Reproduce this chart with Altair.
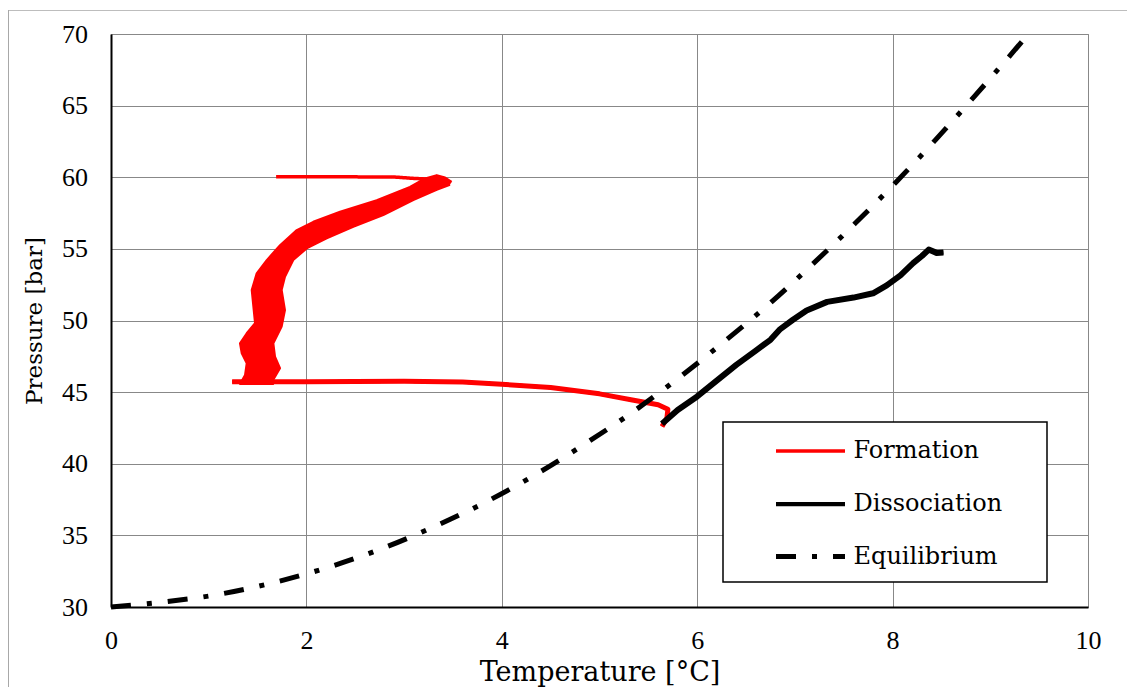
import altair as alt
import pandas as pd

# ---------------- data ----------------
series_names = ["Formation", "Dissociation", "Equilibrium"]
series_colors = ["#ff0000", "#000000", "#000000"]
series_dash = [[1, 0], [1, 0], [20, 16, 5, 16]]

x_ticks = [0, 2, 4, 6, 8, 10]
y_ticks = [30, 35, 40, 45, 50, 55, 60, 65, 70]

# Equilibrium curve
eq_T = [0.0, 0.433, 1.024, 1.604, 2.175, 2.740, 3.289, 3.825, 4.347, 4.852, 5.346,
        5.824, 6.288, 6.745, 7.182, 7.612, 8.032, 8.437, 8.833, 9.225, 9.39]
eq_P = [30.0, 30.28, 30.79, 31.60, 32.67, 33.99, 35.55, 37.29, 39.25, 41.39, 43.64,
        46.06, 48.59, 51.20, 53.94, 56.75, 59.64, 62.59, 65.61, 68.68, 70.0]

# Dissociation
dis_T = [5.64, 5.80, 6.00, 6.20, 6.40, 6.60, 6.75, 6.85, 6.98, 7.12, 7.33, 7.60,
         7.80, 7.94, 8.08, 8.21, 8.30, 8.37, 8.45, 8.52]
dis_P = [42.8, 43.75, 44.7, 45.8, 46.9, 47.9, 48.65, 49.4, 50.05, 50.7, 51.3, 51.6,
         51.9, 52.45, 53.15, 54.0, 54.5, 54.95, 54.72, 54.75]

# Formation: thin parts
form_top_T = [1.69, 2.30, 2.89, 3.10, 3.30]
form_top_P = [60.03, 60.03, 60.02, 59.92, 59.85]
form_bot_T = [1.24, 2.00, 3.00, 3.60, 4.00, 4.50, 5.00, 5.35, 5.60, 5.70, 5.69, 5.64]
form_bot_P = [45.72, 45.72, 45.76, 45.70, 45.55, 45.32, 44.88, 44.43, 44.12, 43.80, 43.20, 42.60]

# Formation: envelope of the dense, scattered band of readings
band_T = [3.487, 3.420, 3.334, 3.214, 3.060, 2.720, 2.344, 2.070, 1.901, 1.730, 1.594,
          1.491, 1.440, 1.457, 1.474, 1.389, 1.320, 1.338, 1.389, 1.372, 1.320,
          1.660, 1.660, 1.730, 1.679, 1.662, 1.747, 1.781, 1.747, 1.781, 1.866,
          2.003, 2.208, 2.480, 2.787, 3.094, 3.334, 3.470]
band_P = [59.68, 59.98, 60.15, 59.92, 59.33, 58.40, 57.59, 56.89, 56.31, 55.26, 54.22,
          53.29, 52.13, 50.96, 49.81, 49.11, 48.41, 47.71, 47.02, 46.20, 45.57,
          45.57, 45.85, 46.67, 47.48, 48.41, 49.57, 50.73, 52.13, 53.05, 54.22,
          55.03, 55.73, 56.54, 57.36, 58.40, 59.13, 59.48]


def table(T, P, series, seg):
    return pd.DataFrame({"T": T, "P": P, "series": series, "seg": seg,
                         "i": list(range(len(T)))})


form_top_df = table(form_top_T, form_top_P, "Formation", "top")
form_bot_df = table(form_bot_T, form_bot_P, "Formation", "bottom")
form_df = pd.concat([form_top_df, form_bot_df])
band_df = table(band_T, band_P, "Formation", "band")
dis_df = table(dis_T, dis_P, "Dissociation", "d")
eq_df = table(eq_T, eq_P, "Equilibrium", "e")
deco_df = pd.DataFrame({"k": [0]})

# ---------------- encodings ----------------
x_enc = alt.X("T:Q", scale=alt.Scale(domain=[0, 10], nice=False, zero=False),
              axis=alt.Axis(values=x_ticks, title="Temperature [°C]",
                            titleY=73, titleBaseline="alphabetic", titleFontSize=27))
y_enc = alt.Y("P:Q", scale=alt.Scale(domain=[30, 70], nice=False, zero=False),
              axis=alt.Axis(values=y_ticks, title="Pressure [bar]",
                            titleX=-77, titleY=286.5, titleBaseline="middle",
                            titleAlign="center", titleFontSize=23))

legend = alt.Legend(title=None, orient="none", legendX=612, legendY=388,
                    padding=15.5, strokeColor="transparent", fillColor="transparent",
                    symbolType="M-3,0H3", symbolSize=529, symbolOffset=58,
                    labelOffset=29, labelFont="DejaVu Serif", labelFontSize=24,
                    labelColor="black", rowPadding=26.5, labelLimit=400)

color_enc = alt.Color("series:N", scale=alt.Scale(domain=series_names, range=series_colors),
                      legend=legend)
dash_enc = alt.StrokeDash("series:N", scale=alt.Scale(domain=series_names, range=series_dash),
                          legend=legend)
width_enc = alt.StrokeWidth("series:N", scale=alt.Scale(domain=series_names, range=[3.5, 5]),
                            legend=legend)

# ---------------- layers ----------------
# light outer frame of the figure (decoration)
frame_top = alt.Chart(deco_df).mark_rule(color="#bdbdbd", strokeWidth=1).encode(
    x=alt.value(-103), x2=alt.value(1016), y=alt.value(-23.5))
frame_left = alt.Chart(deco_df).mark_rule(color="#a8a8a8", strokeWidth=1).encode(
    x=alt.value(-102.5), y=alt.value(-24), y2=alt.value(660))

formation_under = alt.Chart(form_bot_df).mark_line(color="#ff0000", strokeWidth=5,
                                                   strokeJoin="round").encode(
    x=x_enc, y=y_enc, order="i:Q")
formation = alt.Chart(form_df).mark_line(strokeJoin="round").encode(
    x=x_enc, y=y_enc, color=color_enc, strokeDash=dash_enc, strokeWidth=width_enc,
    detail="seg:N", order="i:Q")

band = alt.Chart(band_df).mark_line(filled=True, fill="#ff0000", stroke="#ff0000",
                                    strokeWidth=2, strokeJoin="round").encode(
    x=x_enc, y=y_enc, order="i:Q")

dissociation_under = alt.Chart(dis_df).mark_line(color="#000000", strokeWidth=6,
                                                 strokeJoin="round").encode(
    x=x_enc, y=y_enc, order="i:Q")
dissociation = alt.Chart(dis_df).mark_line(strokeJoin="round").encode(
    x=x_enc, y=y_enc, color=color_enc, strokeDash=dash_enc, strokeWidth=width_enc,
    order="i:Q")

equilibrium = alt.Chart(eq_df).mark_line(interpolate="monotone").encode(
    x=x_enc, y=y_enc, color=color_enc, strokeDash=dash_enc, strokeWidth=width_enc,
    order="i:Q")

# legend frame (decoration behind the legend entries)
legend_box = alt.Chart(deco_df).mark_rect(fill="white", stroke="black", strokeWidth=1.5).encode(
    x=alt.value(612), x2=alt.value(936), y=alt.value(388), y2=alt.value(548))

chart = alt.layer(frame_top, frame_left, formation_under, formation, band,
                  dissociation_under, dissociation, equilibrium, legend_box).properties(
    width=977, height=573,
    autosize=alt.AutoSizeParams(type="none"),
    padding={"left": 103, "top": 26, "right": 39, "bottom": 80},
).configure_view(
    stroke="#888888", strokeWidth=1
).configure_axis(
    grid=True, gridColor="#888888", gridWidth=1,
    domainColor="black", domainWidth=2, ticks=False,
    labelFont="Liberation Serif", labelFontSize=26, labelColor="black",
    titleFont="DejaVu Serif", titleFontWeight="normal", titleColor="black",
).configure_axisX(
    labelPadding=33, labelBaseline="middle", labelFlush=False
).configure_axisY(
    labelPadding=23.5
)

chart.save("out.html", embed_options={"renderer": "svg", "actions": False})
